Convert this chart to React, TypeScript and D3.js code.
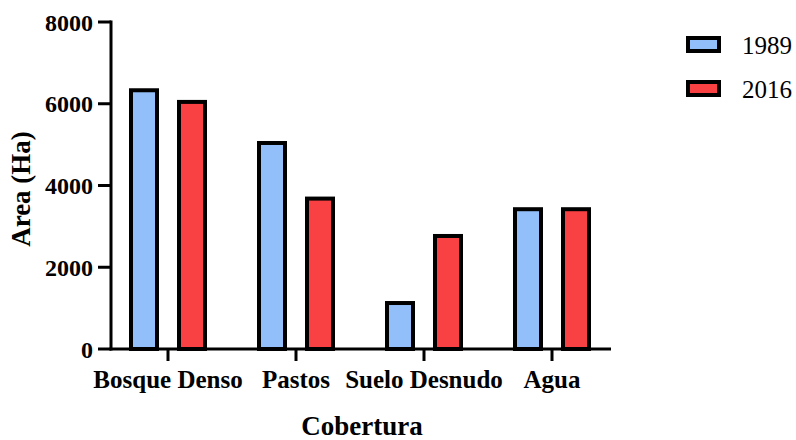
import React from "react";
import * as d3 from "d3";

const categories = ["Bosque Denso", "Pastos", "Suelo Desnudo", "Agua"];
const series = ["1989", "2016"];
const values1989 = [6330, 5040, 1125, 3420];
const values2016 = [6045, 3680, 2765, 3420];
const yTicks = [0, 2000, 4000, 6000, 8000];
const colors = ["#92bef9", "#f94143"];

const W = 796;
const H = 440;

export default function App() {
  const y = d3.scaleLinear().domain([0, 8000]).range([349, 22]);
  const x = d3.scaleBand<string>().domain(categories).range([104, 616]).padding(0);
  const xc = (c: string) => (x(c) as number) + x.bandwidth() / 2;
  const seriesVals = [values1989, values2016];
  const font = "'Liberation Serif', 'Times New Roman', Times, serif";
  const axisX0 = 111;
  const axisX1 = 611;

  return (
    <svg width={W} height={H} style={{ position: "absolute", left: 0, top: 0, fontFamily: font }}>
      <rect width={W} height={H} fill="#fff" />
      {categories.map((c, i) =>
        series.map((s, j) => {
          const v = seriesVals[j][i];
          const cx = xc(c) + (j === 0 ? -24 : 24);
          const bw = 26;
          return (
            <rect
              key={c + s}
              x={cx - bw / 2}
              y={y(v)}
              width={bw}
              height={y(0) - y(v)}
              fill={colors[j]}
              stroke="#000"
              strokeWidth={4}
            />
          );
        })
      )}
      <line x1={axisX0} x2={axisX0} y1={y(8000) - 1.5} y2={y(0) + 1.5} stroke="#000" strokeWidth={3} />
      {yTicks.map((t) => (
        <g key={t}>
          <line x1={98} x2={axisX0} y1={y(t)} y2={y(t)} stroke="#000" strokeWidth={3} />
          <text x={93} y={y(t)} dy="0.36em" textAnchor="end" fontSize={24} fontWeight="bold">
            {t}
          </text>
        </g>
      ))}
      <line x1={axisX0 - 1.5} x2={axisX1} y1={y(0)} y2={y(0)} stroke="#000" strokeWidth={3} />
      {categories.map((c) => (
        <g key={c}>
          <line x1={xc(c)} x2={xc(c)} y1={y(0)} y2={y(0) + 12} stroke="#000" strokeWidth={3} />
          <text x={xc(c)} y={388} textAnchor="middle" fontSize={25} fontWeight="bold">
            {c}
          </text>
        </g>
      ))}
      <text x={362} y={435} textAnchor="middle" fontSize={27} fontWeight="bold">
        Cobertura
      </text>
      <text
        transform={`translate(30,189) rotate(-90)`}
        textAnchor="middle"
        fontSize={27}
        fontWeight="bold"
      >
        Area (Ha)
      </text>
      {series.map((s, j) => (
        <g key={s} transform={`translate(0, ${j * 44})`}>
          <rect x={688} y={38} width={31} height={13} fill={colors[j]} stroke="#000" strokeWidth={4} />
          <text x={742} y={53.5} fontSize={25}>
            {s}
          </text>
        </g>
      ))}
    </svg>
  );
}
